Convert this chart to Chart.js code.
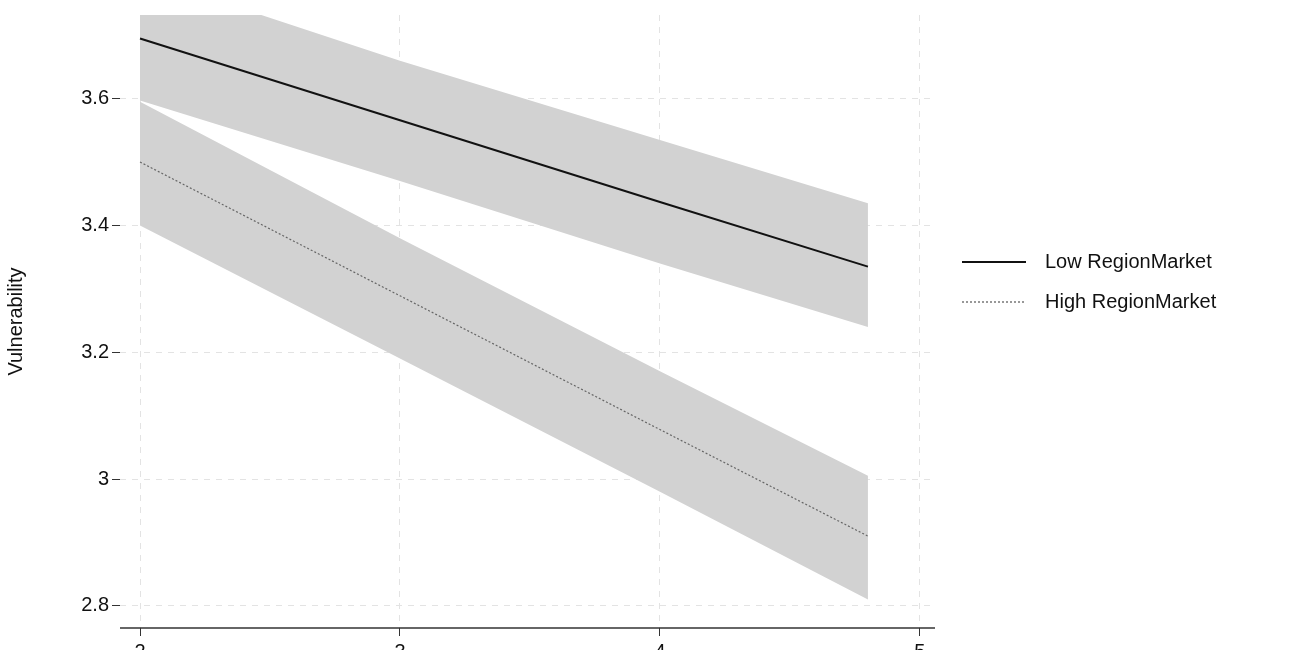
<!DOCTYPE html>
<html><head><meta charset="utf-8">
<script src="https://cdn.jsdelivr.net/npm/chart.js@4.4.0/dist/chart.umd.min.js"></script>
<style>html,body{margin:0;padding:0;overflow:hidden;background:#fff}#w{width:1300px;height:700px}</style>
</head><body><div id="w"><canvas id="c"></canvas></div>
<script>
const xVals=[2,3,4,4.8];
const lowMean=[3.695,3.566,3.437,3.335];
const lowUpper=[3.795,3.66,3.535,3.435];
const lowLower=[3.597,3.47,3.34,3.24];
const highMean=[3.5,3.289,3.078,2.91];
const highUpper=[3.595,3.38,3.17,3.005];
const highLower=[3.40,3.19,2.98,2.81];
const seriesNames=['Low RegionMarket','High RegionMarket'];
const yTicks=[2.8,3,3.2,3.4,3.6];
const xTicks=[2,3,4,5];
const pts=a=>a.map((v,i)=>({x:xVals[i],y:v}));
const band='rgb(210,210,210)';
const legendPlugin={id:'lg',afterDraw(ch){const c=ch.ctx;c.save();
 const a=ch.chartArea;c.strokeStyle='#333';c.lineWidth=1.5;c.setLineDash([]);c.beginPath();c.moveTo(a.left,a.bottom);c.lineTo(a.right,a.bottom);c.stroke();
 c.font='20px "Liberation Sans", Arial';c.fillStyle='#111';c.textBaseline='middle';
 const items=[[262,[],1.8,'#111'],[302,[2,2],1.2,'#555']];
 items.forEach((it,i)=>{c.beginPath();c.setLineDash(it[1]);c.lineWidth=it[2];c.strokeStyle=it[3];c.moveTo(962,it[0]);c.lineTo(1026,it[0]);c.stroke();c.fillText(seriesNames[i],1045,it[0]);});c.restore();}};
new Chart(document.getElementById('c'),{type:'line',
data:{datasets:[
 {data:pts(lowUpper),fill:'+1',backgroundColor:band,borderWidth:0,pointRadius:0,order:5},
 {data:pts(lowLower),fill:false,borderWidth:0,pointRadius:0,order:5},
 {data:pts(highUpper),fill:'+1',backgroundColor:band,borderWidth:0,pointRadius:0,order:5},
 {data:pts(highLower),fill:false,borderWidth:0,pointRadius:0,order:5},
 {label:seriesNames[0],data:pts(lowMean),borderColor:'#111',borderWidth:2,pointRadius:0,fill:false,order:1},
 {label:seriesNames[1],data:pts(highMean),borderColor:'#666',borderWidth:1.2,borderDash:[2,2],pointRadius:0,fill:false,order:1}
]},
options:{responsive:true,maintainAspectRatio:false,animation:false,
 layout:{padding:{left:0,right:365,top:-14,bottom:0}},
 plugins:{legend:{display:false},tooltip:{enabled:false}},
 scales:{
  x:{type:'linear',min:1.923,max:5.058,afterBuildTicks:s=>{s.ticks=xTicks.map(v=>({value:v}))},
   afterFit:s=>{s.height=72},
   grid:{color:'#e3e3e3',tickColor:'#333',tickLength:8},
   border:{display:false,dash:[6,6]},
   ticks:{color:'#111',font:{size:20,family:'"Liberation Sans", Arial'},padding:4}},
  y:{min:2.765,max:3.732,afterBuildTicks:s=>{s.ticks=yTicks.map(v=>({value:v}))},
   afterFit:s=>{s.width=120},
   grid:{color:'#e3e3e3',tickColor:'#333',tickLength:8},
   border:{display:false,dash:[6,6]},
   title:{display:true,text:'Vulnerability',color:'#111',font:{size:20,family:'"Liberation Sans", Arial'}},
   ticks:{color:'#111',font:{size:20,family:'"Liberation Sans", Arial'},callback:v=>String(+v.toFixed(1))}}
 }},
plugins:[legendPlugin]});
</script></body></html>
